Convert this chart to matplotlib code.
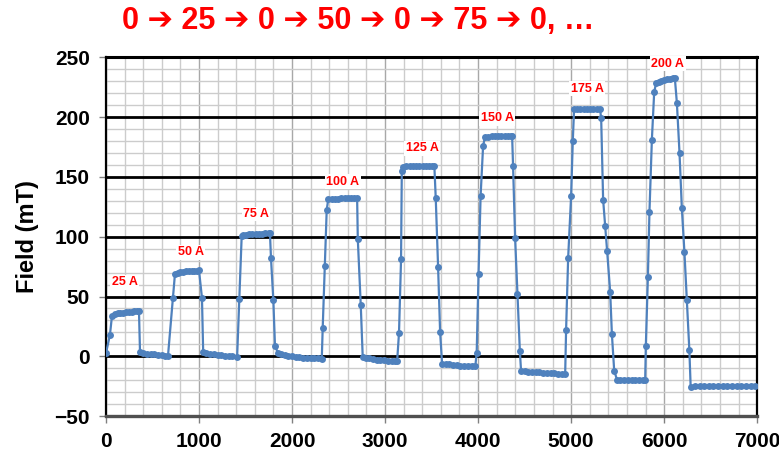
import matplotlib.pyplot as plt
from matplotlib.ticker import MultipleLocator

# time (s) and measured field (mT) for the current steps 0 -> 25 -> 0 -> 50 ... A
time_s = [
    0, 43, 65, 95, 125, 155, 185, 215, 245, 275, 305, 335, 355,
    366, 400, 440, 480, 520, 560, 600, 640, 667,
    720, 742, 770, 800, 830, 860, 890, 920, 950, 980, 1000,
    1032, 1045, 1080, 1120, 1160, 1200, 1240, 1280, 1320, 1360, 1410,
    1433, 1459, 1473, 1505, 1540, 1575, 1610, 1645, 1680, 1715, 1750, 1763,
    1774, 1799, 1817, 1850, 1885, 1920, 1960, 2000, 2040, 2080, 2120, 2160, 2200, 2240, 2280, 2320,
    2330, 2352, 2373, 2390, 2425, 2460, 2495, 2530, 2565, 2600, 2635, 2670, 2700,
    2707, 2739, 2760, 2790, 2830, 2870, 2910, 2950, 2990, 3030, 3070, 3110, 3130,
    3150, 3172, 3180, 3195, 3230, 3265, 3300, 3335, 3370, 3405, 3440, 3475, 3510, 3530,
    3545, 3570, 3592, 3613, 3650, 3690, 3730, 3770, 3810, 3850, 3890, 3930, 3970,
    3985, 4005, 4027, 4054, 4075, 4110, 4145, 4180, 4215, 4250, 4285, 4320, 4355, 4366,
    4376, 4398, 4423, 4449, 4462, 4500, 4540, 4580, 4620, 4660, 4700, 4740, 4780, 4820, 4860, 4900, 4936,
    4946, 4968, 5000, 5018, 5032, 5065, 5100, 5135, 5170, 5205, 5240, 5275, 5310,
    5323, 5344, 5366, 5387, 5420, 5438, 5463,
    5495, 5530, 5570, 5610, 5650, 5690, 5730, 5770, 5796,
    5803, 5825, 5842, 5868, 5893, 5914, 5940, 5970, 6000, 6030, 6060, 6090, 6115,
    6137, 6165, 6190, 6218, 6244, 6271,
    6285, 6330, 6380, 6430, 6480, 6530, 6580, 6630, 6680, 6730, 6780, 6830, 6880, 6930, 6980,
]
field_mT = [
    2.5, 18, 34, 35.5, 36, 36.3, 36.6, 37, 37.2, 37.4, 37.6, 37.9, 38,
    4, 2.8, 2.3, 2, 1.6, 1.3, 1, 0.7, 0.5,
    49, 69, 70, 70.5, 70.8, 71, 71.2, 71.4, 71.5, 71.7, 72,
    49, 4, 2.8, 2.2, 1.8, 1.4, 1.0, 0.7, 0.4, 0.1, -0.5,
    48, 100.5, 101.5, 101.8, 102, 102.2, 102.4, 102.5, 102.6, 102.7, 102.8, 102.8,
    82, 47.3, 8.6, 2.8, 1.8, 1.0, 0.4, 0, -0.4, -0.7, -1.0, -1.2, -1.4, -1.6, -1.8, -2,
    24, 75.4, 122.5, 131.5, 131.7, 131.8, 131.9, 132, 132, 132, 132, 132, 132,
    98.3, 42.6, -0.5, -1.2, -1.8, -2.3, -2.7, -3, -3.2, -3.5, -3.7, -3.9, -4,
    19.6, 81, 154.8, 158.5, 158.7, 158.8, 158.9, 159, 159, 159, 159, 159, 159, 159,
    132, 75, 20, -6, -6.4, -6.8, -7.1, -7.4, -7.7, -7.9, -8.1, -8.3, -8.4,
    2.8, 69, 134, 176, 183.5, 183.7, 183.8, 183.9, 184, 184, 184, 184, 184, 184,
    159, 99, 52, 4.4, -12.3, -12.5, -12.8, -13, -13.2, -13.4, -13.6, -13.8, -14, -14.2, -14.5, -14.7, -15,
    22, 82, 134, 180, 207, 207, 207, 207, 207, 207, 207, 207, 207,
    199, 131, 109, 88, 53.7, 19, -12,
    -20, -20, -20, -20, -20, -20, -20, -20, -20,
    8.4, 66, 120.6, 181, 221, 228.4, 229.5, 230.5, 231, 231.5, 232, 232.3, 232.5,
    211.6, 170, 124, 87, 47.4, 5,
    -25.6, -25, -25, -25, -25, -25, -25, -25, -25, -25, -25, -25, -25, -25, -25,
]

step_labels = ['25 A', '50 A', '75 A', '100 A', '125 A', '150 A', '175 A', '200 A']
step_label_x = [199, 909, 1611, 2548, 3398, 4204, 5172, 6038]
step_label_y = [62, 87, 119, 146, 174, 199, 223.6, 244.5]

title_text = '0 \u2794 25 \u2794 0 \u2794 50 \u2794 0 \u2794 75 \u2794 0, \u2026'

fam = ['Liberation Sans', 'DejaVu Sans']
blue = '#4F81BD'

fig = plt.figure(figsize=(7.79, 4.65), dpi=100)
ax = fig.add_axes([0.136, 0.105, 0.836, 0.772])

ax.plot(time_s, field_mT, color=blue, linewidth=1.6, marker='o',
        markersize=5, markeredgewidth=0, zorder=4)

ax.set_xlim(0, 7000)
ax.set_ylim(-50, 250)
ax.xaxis.set_major_locator(MultipleLocator(1000))
ax.xaxis.set_minor_locator(MultipleLocator(200))
ax.yaxis.set_major_locator(MultipleLocator(50))
ax.yaxis.set_minor_locator(MultipleLocator(10))

ax.grid(which='minor', color='#CCCCCC', linewidth=1.0)
ax.grid(which='major', axis='x', color='#A8A8A8', linewidth=1.0)
ax.grid(which='major', axis='y', color='black', linewidth=2.0)
ax.set_axisbelow(True)

ax.tick_params(which='major', length=5, width=1, color='#808080', pad=6.5)
ax.tick_params(which='minor', length=0)
for lab in ax.get_xticklabels() + ax.get_yticklabels():
    lab.set_family(fam)
    lab.set_fontweight('bold')
    lab.set_fontsize(15)

for side in ['top', 'right', 'left']:
    ax.spines[side].set_color('black')
ax.spines['top'].set_linewidth(2.2)
ax.spines['right'].set_linewidth(1.6)
ax.spines['left'].set_linewidth(1.6)
ax.spines['bottom'].set_color('#505050')
ax.spines['bottom'].set_linewidth(2.4)

ax.set_ylabel('Field (mT)', family=fam, fontweight='bold', fontsize=17)
ax.yaxis.set_label_coords(-0.103, 0.5)

for txt, lx, ly in zip(step_labels, step_label_x, step_label_y):
    ax.text(lx, ly, txt, color='red', fontsize=9, fontweight='bold',
            family=fam, ha='center', va='center', zorder=5,
            bbox=dict(facecolor='white', edgecolor='none', pad=1.0))

fig.text(0.46, 0.954, title_text, color='red', fontsize=22, fontweight='bold',
         family=fam, ha='center', va='center')

fig.savefig('out.png', dpi=100)
